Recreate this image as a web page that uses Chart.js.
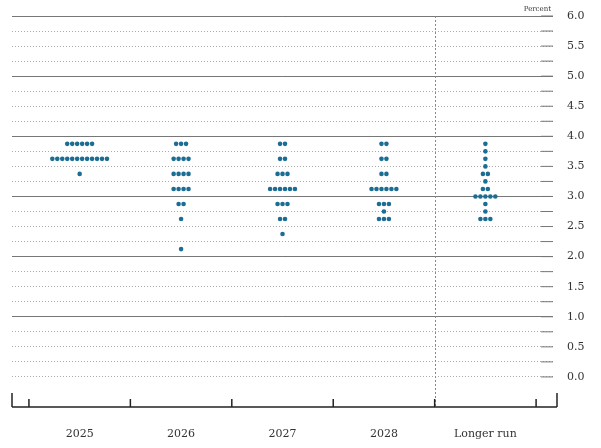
<!DOCTYPE html>
<html>
<head>
<meta charset="utf-8">
<script src="https://cdn.jsdelivr.net/npm/chart.js@4"></script>
<style>
  html, body { margin: 0; padding: 0; background: #fff; }
  #wrap { width: 601px; height: 448px; }
</style>
</head>
<body>
<div id="wrap"><canvas id="chart"></canvas></div>
<script>
// categories of the dot plot
const categories = ['2025', '2026', '2027', '2028', 'Longer run'];

// rate levels (percent) and how many participants at each, per category
const levels2025 = [3.875, 3.625, 3.375];
const counts2025 = [6, 12, 1];
const levels2026 = [3.875, 3.625, 3.375, 3.125, 2.875, 2.625, 2.125];
const counts2026 = [3, 4, 4, 4, 2, 1, 1];
const levels2027 = [3.875, 3.625, 3.375, 3.125, 2.875, 2.625, 2.375];
const counts2027 = [2, 2, 3, 6, 3, 2, 1];
const levels2028 = [3.875, 3.625, 3.375, 3.125, 2.875, 2.75, 2.625];
const counts2028 = [2, 2, 2, 6, 3, 1, 3];
const levelsLong = [3.875, 3.75, 3.625, 3.5, 3.375, 3.25, 3.125, 3.0, 2.875, 2.75, 2.625];
const countsLong = [1, 1, 1, 1, 2, 1, 2, 5, 1, 1, 3];

const yTickLabels = ['0.0', '0.5', '1.0', '1.5', '2.0', '2.5', '3.0', '3.5', '4.0', '4.5', '5.0', '5.5', '6.0'];

const allLevels = [levels2025, levels2026, levels2027, levels2028, levelsLong];
const allCounts = [counts2025, counts2026, counts2027, counts2028, countsLong];

const DOT_GAP = 0.049; // horizontal spacing between dots, in category units
const FONT = '"DejaVu Serif", "Liberation Serif", serif';

// build the scatter points: each dot centred on its category
const points = [];
allLevels.forEach((levels, c) => {
    levels.forEach((v, i) => {
        const n = allCounts[c][i];
        for (let k = 0; k < n; k++) {
            points.push({ x: c + (k - (n - 1) / 2) * DOT_GAP, y: v });
        }
    });
});

// extra lines: bottom axis, its ticks, the dashed separator, right tick marks
const decor = {
    id: 'decor',
    beforeDatasetsDraw(chart) {
        const { ctx, scales: { x, y } } = chart;
        const top = y.getPixelForValue(6);
        const bottom = y.getPixelForValue(-0.5);
        const left = x.getPixelForValue(x.min);
        const right = x.getPixelForValue(x.max);
        ctx.save();
        // short solid marks at right end of each gridline
        ctx.strokeStyle = '#777';
        ctx.lineWidth = 1;
        for (let v = 0; v <= 6; v += 0.25) {
            const py = y.getPixelForValue(v);
            ctx.beginPath();
            ctx.moveTo(right - 12, py);
            ctx.lineTo(right, py);
            ctx.stroke();
        }
        // dashed separator before longer run
        const sx = Math.round(x.getPixelForValue(3.5)) + 0.5;
        ctx.setLineDash([2, 2]);
        ctx.strokeStyle = '#888';
        ctx.beginPath();
        ctx.moveTo(sx, top);
        ctx.lineTo(sx, bottom);
        ctx.stroke();
        ctx.setLineDash([]);
        // bottom axis
        ctx.strokeStyle = '#222';
        ctx.lineWidth = 1.5;
        ctx.beginPath();
        ctx.moveTo(left, bottom);
        ctx.lineTo(right + 4, bottom);
        ctx.stroke();
        const ticks = [x.min, -0.5, 0.5, 1.5, 2.5, 3.5, 4.5, x.max];
        ticks.forEach((t, i) => {
            let px = x.getPixelForValue(t);
            if (i === ticks.length - 1) px += 4;
            const len = (i === 0 || i === ticks.length - 1) ? 14 : 8;
            ctx.beginPath();
            ctx.moveTo(px, bottom);
            ctx.lineTo(px, bottom - len);
            ctx.stroke();
        });
        // "Percent" caption
        ctx.fillStyle = '#333';
        ctx.font = '7px ' + FONT;
        ctx.textAlign = 'right';
        ctx.textBaseline = 'bottom';
        ctx.fillText('Percent', right - 2, top - 3);
        ctx.restore();
    }
};

const ctx = document.getElementById('chart').getContext('2d');
new Chart(ctx, {
    type: 'scatter',
    data: {
        datasets: [{
            data: points,
            backgroundColor: '#1b6d93',
            borderWidth: 0,
            pointRadius: 2.3,
            pointHoverRadius: 2.3,
        }],
    },
    options: {
        responsive: true,
        maintainAspectRatio: false,
        animation: false,
        layout: { padding: { left: 12, top: 16, right: 0, bottom: 0 } },
        plugins: { legend: { display: false }, tooltip: { enabled: false } },
        scales: {
            x: {
                type: 'linear',
                min: -0.667,
                max: 4.5 + 17 / 102,
                afterBuildTicks: (s) => { s.ticks = categories.map((c, i) => ({ value: i })); },
                ticks: {
                    callback: (v) => categories[v],
                    color: '#333',
                    font: { family: FONT, size: 11 },
                    padding: 13,
                    maxRotation: 0,
                    autoSkip: false,
                },
                grid: { display: false },
                border: { display: false },
                afterFit: (s) => { s.height = 41; },
            },
            y: {
                position: 'right',
                min: -0.5,
                max: 6,
                afterBuildTicks: (s) => {
                    const t = [];
                    for (let v = 0; v <= 6; v += 0.25) t.push({ value: v });
                    s.ticks = t;
                },
                ticks: {
                    callback: (v) => (Math.abs(v * 2 - Math.round(v * 2)) < 1e-6 ? yTickLabels[Math.round(v * 2)] : ''),
                    color: '#333',
                    font: { family: FONT, size: 11 },
                    padding: 14,
                    autoSkip: false,
                },
                grid: { color: '#aaa', lineWidth: 1, drawTicks: false },
                border: { display: false, dash: [1, 2] },
                afterFit: (s) => { s.width = 48; s.paddingTop = 0; s.paddingBottom = 0; },
            },
            y2: {
                position: 'right',
                min: -0.5,
                max: 6,
                display: true,
                afterBuildTicks: (s) => { s.ticks = [1, 2, 3, 4, 5, 6].map(v => ({ value: v })); },
                ticks: { display: false, autoSkip: false },
                grid: { color: '#777', lineWidth: 1, drawTicks: false },
                border: { display: false },
                afterFit: (s) => { s.width = 0; s.paddingTop = 0; s.paddingBottom = 0; },
            },
        },
    },
    plugins: [decor],
});
</script>
</body>
</html>
